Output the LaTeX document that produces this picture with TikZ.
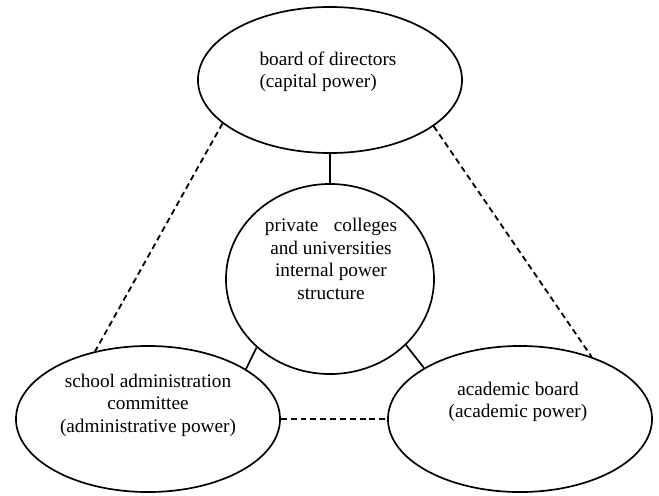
\documentclass[tikz,border=0pt]{standalone}
\usepackage{fontspec}
\setmainfont{Liberation Serif}
\usetikzlibrary{shapes,arrows}
\tikzstyle{oval} = [ellipse, draw=black, line width=1.2pt, minimum width=6.6cm, minimum height=3.65cm]
\tikzstyle{txt} = [font=\fontsize{13.7}{16}\selectfont, align=center, inner sep=0pt]
\tikzstyle{link} = [line width=1.2pt]
\tikzstyle{dashlink} = [line width=1.3pt, dash pattern=on 4.2pt off 2.8pt]

\begin{document}
\begin{tikzpicture}[x=0.025cm, y=-0.025cm]
        \useasboundingbox (0,0) rectangle (659,495);

        \node (1) [oval] at (330,80) {};
        \node (2) [ellipse, draw=black, line width=1.2pt, minimum width=5.2cm, minimum height=4.75cm] at (330,279) {};
        \node (3) [oval] at (148,419) {};
        \node (4) [oval] at (520,419) {};

        \node (t1) [txt, align=left] at (328,72) {board of directors\\(capital power)};
        \node (t2) [txt] at (331,259) {private\hspace{0.8em}colleges\\and universities\\internal power\\structure};
        \node (t3) [txt] at (148,405) {school administration\\committee\\(administrative power)};
        \node (t4) [txt] at (518,402) {academic board\\(academic power)};

        \draw [link] (1.south) -- (2.north);
        \draw [link] (2.223) -- (3.27);
        \draw [link] (2.319) -- (4.152);
        \draw [dashlink] (1.202) -- (3.128);
        \draw [dashlink] (1.336) -- (4.41);
        \draw [dashlink] (3.east) -- (4.west);
    \end{tikzpicture}
\end{document}
